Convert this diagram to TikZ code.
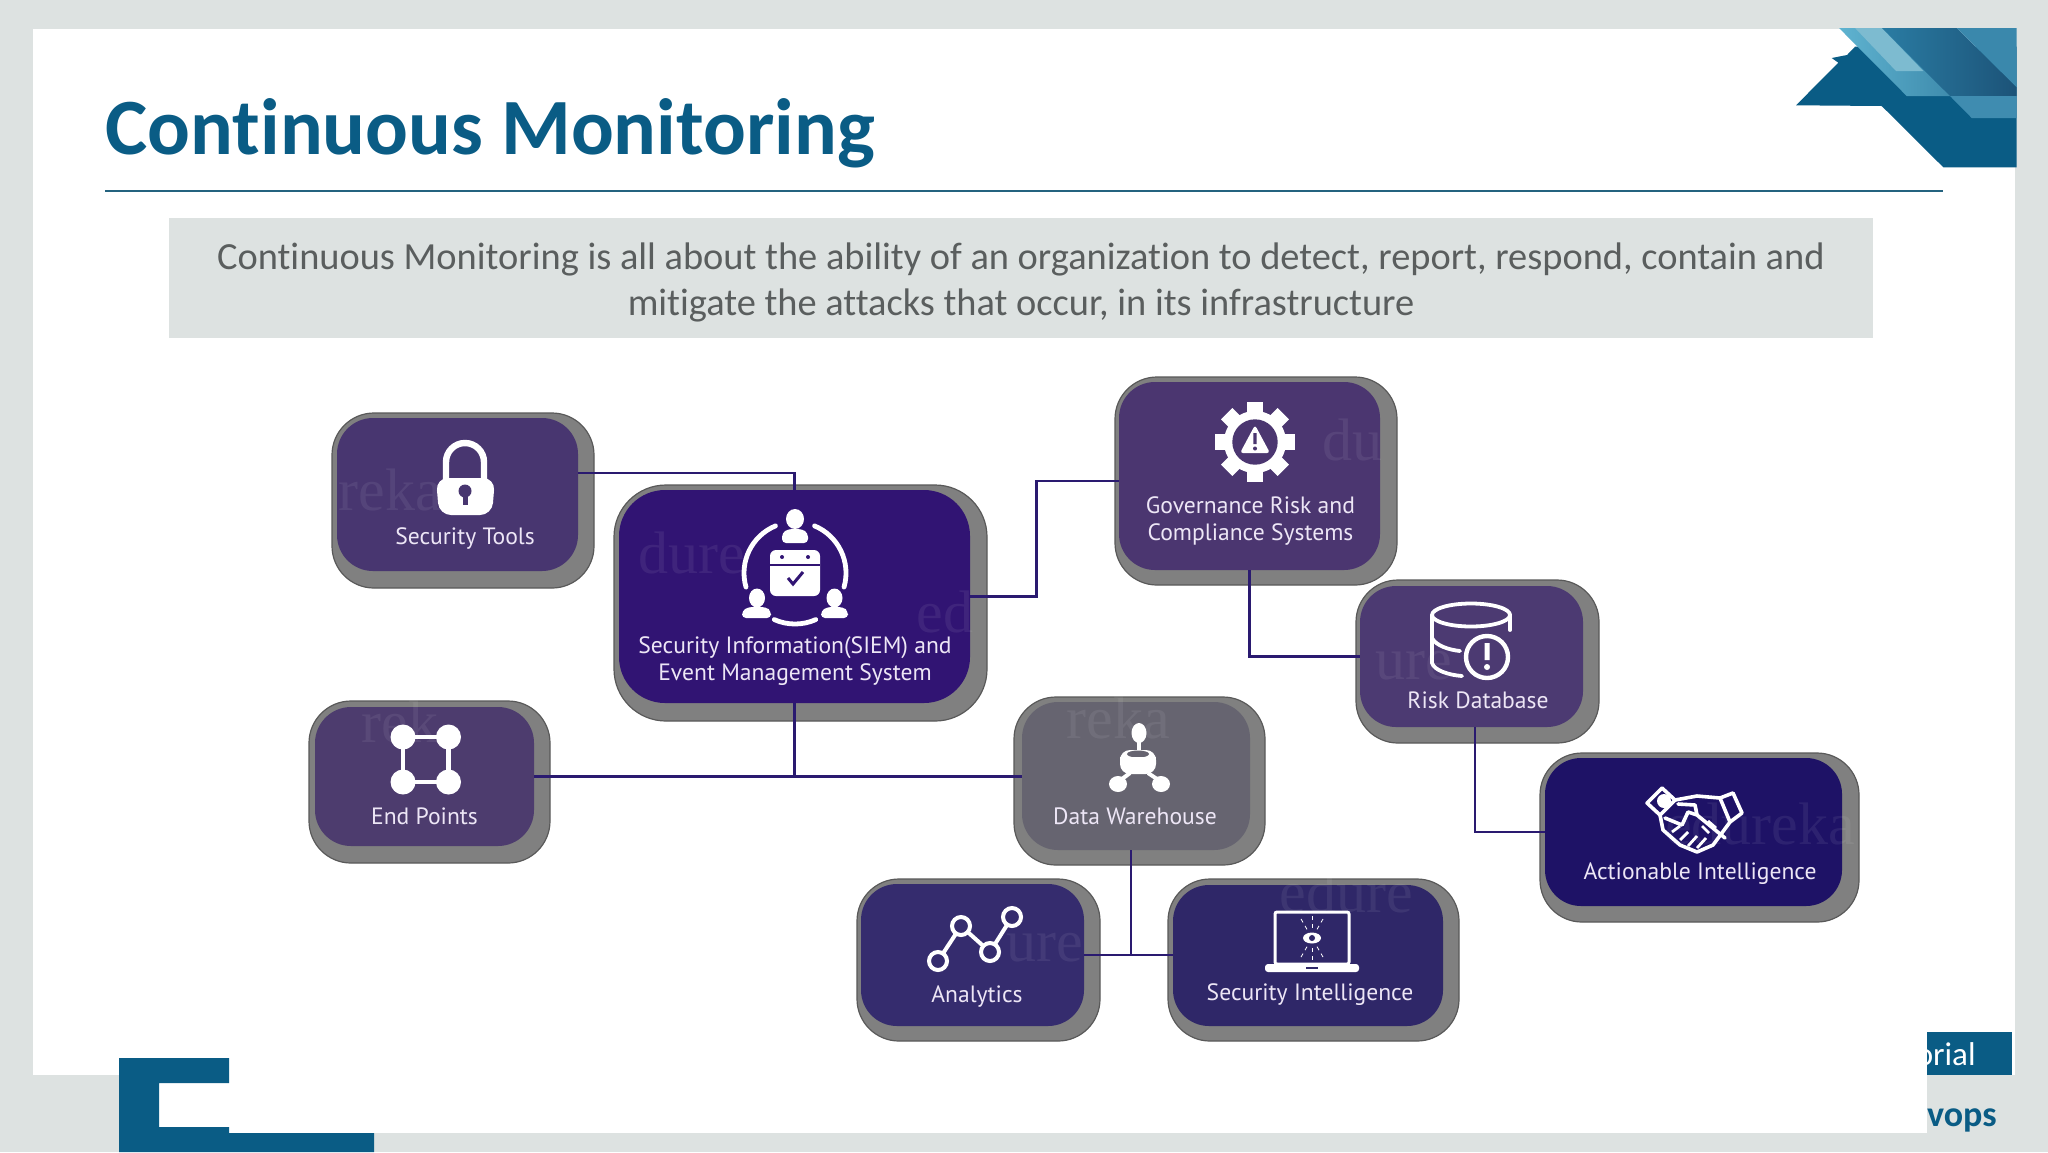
\documentclass[tikz,border=0pt]{standalone}
\usepackage{fontspec}
\setmainfont{Carlito}[RawFeature={-liga;-clig;-dlig}]
\newfontfamily\labelfont{PT Sans}
\newfontfamily\markfont{Liberation Serif}
\definecolor{pagebg}{HTML}{DDE2E1}
\definecolor{deckblue}{HTML}{0A5C85}
\definecolor{rulecol}{HTML}{24637F}
\definecolor{bodygray}{HTML}{5A5E5E}
\definecolor{linkcol}{HTML}{2A1A70}
\definecolor{shadowgray}{HTML}{808080}
\definecolor{labelcol}{HTML}{EDE6F6}
\definecolor{cST}{HTML}{483670}
\definecolor{cSIEM}{HTML}{311473}
\definecolor{cEP}{HTML}{4D3C6E}
\definecolor{cGOV}{HTML}{4B3670}
\definecolor{cRISK}{HTML}{4C3A72}
\definecolor{cDW}{HTML}{666470}
\definecolor{cACT}{HTML}{1E1266}
\definecolor{cSI}{HTML}{2F2768}
\definecolor{cAN}{HTML}{352C6E}
\definecolor{orA}{HTML}{5FB3D0}
\definecolor{orB}{HTML}{3A86A8}
\definecolor{orC}{HTML}{2A7CA3}
\definecolor{orD}{HTML}{1C5378}
\definecolor{orE}{HTML}{3A88AC}
\definecolor{orF}{HTML}{7DBBD0}
\definecolor{orG}{HTML}{3F8CB0}
\tikzset{
  outerbox/.style={draw=black!65,line width=0.6pt,fill=shadowgray,rounded corners=#1,inner sep=0pt},
  innerbox/.style={rounded corners=#1,inner sep=0pt},
  cardlabel/.style={text=labelcol,align=center,inner sep=0pt,font=\labelfont\fontsize{11.8}{13.4}\selectfont},
  linkline/.style={draw=linkcol,line width=1.1pt},
  iconfill/.style={fill=white,draw=none},
  iconline/.style={draw=white,line width=2pt,line cap=round,line join=round},
  ghostmark/.style={text=white,text opacity=0.07,inner sep=0pt,font=\markfont\fontsize{30}{30}\selectfont},
}
\newcommand{\cardrad}{18pt}
\newcommand{\cardradout}{21pt}
% name, x1,y1,x2,y2 (inner), x1,y1,x2,y2 (outer)
\newcommand{\cardbox}[9]{%
  \node[outerbox=\cardradout,minimum width={(#8-#6)*0.5pt},minimum height={(#9-#7)*0.5pt}] (#1o) at ({(#6+#8)/2},{(#7+#9)/2}) {};
  \node[innerbox=\cardrad,fill=c#1,minimum width={(#4-#2)*0.5pt},minimum height={(#5-#3)*0.5pt}] (#1) at ({(#2+#4)/2},{(#3+#5)/2}) {};
}
\begin{document}
\begin{tikzpicture}[x=0.5pt,y=-0.5pt]
\useasboundingbox (0,0) rectangle (2048,1152);
\fill[pagebg] (0,0) rectangle (2048,1152);
\fill[white] (33,29) rectangle (2015,1075);
\fill[white] (119,1075) rectangle (1927,1133);
% lower-left bracket
\fill[deckblue] (119,1058) -- (229,1058) -- (229,1083) -- (159,1083) -- (159,1127) -- (229,1127) -- (229,1133) -- (374,1133) -- (374,1152) -- (119,1152) -- cycle;
% footer
\fill[deckblue] (1927,1032) rectangle (2012,1075);
\begin{scope}
\clip (1927,1000) rectangle (2048,1152);
\node[anchor=base east,inner sep=0pt,text=white,font=\fontsize{16.5}{20}\selectfont] (foota) at (1976,1065) {orial};
\node[anchor=base east,inner sep=0pt,text=deckblue,font=\bfseries\fontsize{18}{20}\selectfont] (footb) at (1997,1126) {vops};
\end{scope}
% top-right ornament
\fill[deckblue] (1796,105.3) -- (1838.3,62.7) -- (1831.7,58) -- (1847,55) -- (1855,46.7) -- (2016.7,46.7) -- (2016.7,167.3) -- (1943.3,167.3) -- (1881.7,106) -- cycle;
\shade[left color=orA,right color=orB] (1839,28) -- (1882,28) -- (1966,96) -- (1906.7,96) -- cycle;
\shade[left color=orC,right color=orD] (1881.7,28) -- (1956.7,28) -- (2016.7,87.3) -- (2016.7,96) -- (1950,96) -- cycle;
\fill[orE] (1956.7,28) -- (2016.7,28) -- (2016.7,87.3) -- cycle;
\fill[orF] (1855,28) -- (1881.7,28) -- (1923.3,71) -- (1896,71) -- cycle;
\fill[orG] (1950,96) -- (2016.7,96) -- (2016.7,118) -- (1971.7,118) -- cycle;
% heading
\node[anchor=base west,inner sep=0pt,text=deckblue,font=\bfseries\fontsize{39.9}{46}\selectfont] (title) at (105,154) {Continuous Monitoring};
\coordinate (ruleL) at (105,191);
\coordinate (ruleR) at (1943,191);
\draw[rulecol,line width=1pt] (ruleL) -- (ruleR);
\fill[pagebg] (169,218) rectangle (1873,338);
\node[align=center,inner sep=0pt,text=bodygray,font=\fontsize{19.2}{23}\selectfont] (intro) at (1021,282) {Continuous Monitoring is all about the ability of an organization to detect, report, respond, contain and\\mitigate the attacks that occur, in its infrastructure};
% cards
\cardbox{ST}{337}{418}{578}{571}{332}{413}{594}{588}
\cardbox{EP}{315}{707}{534}{846}{309}{701}{550}{863}
\cardbox{GOV}{1119}{382}{1380}{570}{1115}{377}{1397}{585}
\cardbox{RISK}{1360}{586}{1583}{727}{1356}{580}{1599}{743}
\cardbox{DW}{1022}{702}{1250}{850}{1014}{697}{1265}{865}
\cardbox{ACT}{1545}{758}{1842}{906}{1540}{753}{1859}{922}
\cardbox{SI}{1173}{885}{1443}{1026}{1168}{879}{1459}{1041}
\cardbox{AN}{861}{884}{1084}{1026}{857}{879}{1100}{1041}
\renewcommand{\cardrad}{23pt}\renewcommand{\cardradout}{26pt}
\cardbox{SIEM}{619}{490}{970}{703}{614}{485}{987}{721}
% faint stamp fragments printed across the cards
\node[ghostmark] (g1) at (390,490) {reka};
\node[ghostmark] (g2) at (692,553) {dure};
\node[ghostmark] (g3) at (945,612) {ed};
\node[ghostmark] (g4) at (400,722) {rek};
\node[ghostmark] (g6) at (1352,440) {du};
\node[ghostmark] (g8) at (1414,666) {ure};
\node[ghostmark] (g9) at (1118,718) {reka};
\node[ghostmark] (g11) at (1045,948) {ure};
\node[ghostmark] (g12) at (1346,892) {edure};
\node[ghostmark] (g14) at (1760,824) {edureka};
% connectors
\draw[linkline] ([yshift=10.75pt]ST.east) -| (SIEM.north);
\draw[linkline] (SIEM.east) -- ++(66,0) |- ([yshift=-2.5pt]GOV.west);
\draw[linkline] (GOV.south) |- (RISK.west);
\draw[linkline] ([xshift=1.75pt]RISK.south) |- (ACT.west);
\draw[linkline] (SIEM.south) -- (SIEM.south |- EP.east);
\draw[linkline] (EP.east) -- (EP.east -| DW.west);
\draw[linkline] ([xshift=-2.5pt]DW.south) -- ([xshift=-2.5pt]DW.south |- AN.east);
\draw[linkline] (AN.east) -- (AN.east -| SI.west);
% labels
\node[cardlabel] (lST) at (465,539) {Security Tools};
\node[cardlabel] (lSIEM) at (795,661) {Security Information(SIEM) and\\Event Management System};
\node[cardlabel] (lEP) at (424.5,816) {End Points};
\node[cardlabel] (lGOV) at (1250.5,521) {Governance Risk and\\Compliance Systems};
\node[cardlabel] (lRISK) at (1478,700) {Risk Database};
\node[cardlabel] (lDW) at (1135,816) {Data Warehouse};
\node[cardlabel] (lACT) at (1700,874) {Actionable Intelligence};
\node[cardlabel] (lSI) at (1310,995) {Security Intelligence};
\node[cardlabel] (lAN) at (977,997) {Analytics};
% lock icon
\draw[white,line width=3.2pt] (446,485) -- (446,462) arc[start angle=180,end angle=360,radius=19] -- (484,485);
\fill[white,rounded corners=6pt] (436,478) -- (495,478) -- (492,515) -- (439,515) -- cycle;
\fill[cST] (465,491) circle (6.5);
\fill[cST] (462.5,491) rectangle (467.5,505);
% SIEM icon
\fill[white] (795,519) ellipse (9 and 10);
\fill[white,rounded corners=2pt] (782,543) -- (782,533) -- (788,529) -- (802,529) -- (808,533) -- (808,543) -- cycle;
\draw[iconline,line width=2.4pt] (795,573) ++(247.5:51) arc[start angle=247.5,end angle=164,radius=51];
\draw[iconline,line width=2.4pt] (795,573) ++(-67.5:51) arc[start angle=-67.5,end angle=16,radius=51];
\draw[iconline,line width=2.4pt] (795,573) ++(114:51) arc[start angle=114,end angle=66,radius=51];
\fill[white,rounded corners=3pt] (770,550) rectangle (820,596);
\fill[cSIEM] (770,563.5) rectangle (820,565.5);
\fill[cSIEM] (782,557) circle (2) (808,557) circle (2);
\draw[cSIEM,line width=1.5pt] (788,578) -- (793,584) -- (803,572);
\fill[white] (757,598) ellipse (8 and 9.5);
\fill[white,rounded corners=2pt] (742,618) -- (742,611) -- (748,607) -- (766,607) -- (771,611) -- (771,618) -- cycle;
\fill[white] (834.5,598) ellipse (8 and 9.5);
\fill[white,rounded corners=2pt] (821,618) -- (821,611) -- (827,607) -- (843,607) -- (848,611) -- (848,618) -- cycle;
% end points icon
\draw[iconline,line width=2.2pt] (403,737) rectangle (448.5,782);
\fill[white] (403,737) circle (12.5) (448.5,737) circle (12.5) (403,782) circle (12.5) (448.5,782) circle (12.5);
% governance icon
\foreach \a in {0,45,...,315}{\fill[white,rotate around={\a:(1255,442)}] (1247,402) rectangle (1263,420);}
\fill[white] (1255,442) circle (31);
\fill[cGOV] (1255,442) circle (22.7);
\fill[white,rounded corners=1.5pt] (1255,425) -- (1270,453) -- (1240,453) -- cycle;
\fill[cGOV] (1253.3,433) rectangle (1256.7,444) (1255,448.5) circle (2);
% risk database icon
\draw[iconline,line width=1.9pt] (1471,615) ellipse (39 and 11.5);
\draw[iconline,line width=1.9pt] (1432,615) -- (1432,663) .. controls (1434,670) and (1448,675) .. (1462,676);
\draw[iconline,line width=1.9pt] (1432,638) .. controls (1436,646) and (1450,650) .. (1460,651);
\draw[iconline,line width=1.9pt] (1510,615) -- (1510,630);
\draw[iconline,line width=2.2pt,fill=cRISK] (1487,657) circle (21);
\fill[white] (1484.5,643) rectangle (1489.5,660) (1487,667) circle (3);
% data warehouse icon
\fill[white] (1139,733) ellipse (7.5 and 10);
\fill[white] (1137,742) rectangle (1141,750);
\fill[white,rounded corners=5pt] (1120,750) rectangle (1156,774);
\fill[cDW] (1138,754) ellipse (11 and 3.5);
\draw[white,line width=1.5pt] (1120,758) -- (1156,758);
\fill[white] (1118,784) ellipse (9 and 8) (1161,784) ellipse (9 and 8);
\draw[white,line width=2pt] (1122,779) -- (1130,773) (1157,779) -- (1148,773);
% analytics icon
\draw[iconline,line width=2pt] (938,961) -- (961,926) -- (990,952) -- (1012,917);
\foreach \p in {(938,961),(961,926),(990,952),(1012,917)}{\filldraw[cAN,draw=white,line width=2pt] \p circle (9);}
% laptop icon
\draw[white,line width=1.5pt,fill=cSI,rounded corners=1pt] (1275,912) rectangle (1349,964);
\fill[white,rounded corners=1.5pt] (1265,964) rectangle (1359,972);
\fill[cSI] (1306,966.5) rectangle (1318,969);
\fill[white] (1312,938) ellipse (9 and 5.5);
\fill[cSI] (1312,938) circle (3);
\foreach \a in {-60,-90,-120,60,90,120}{\draw[white,line width=0.4pt,dash pattern=on 2pt off 2pt] (1312,938) ++(\a:10) -- ++(\a:12);}
% handshake icon
\draw[iconline,line width=1.8pt] (1647,803) -- (1662,788) -- (1675,800) -- (1660,815) -- cycle;
\draw[iconline,line width=1.8pt] (1720,798) -- (1733,793) -- (1742,813) -- (1730,822) -- cycle;
\draw[iconline,line width=1.8pt] (1675,800) -- (1697,796) -- (1720,798) (1730,822) -- (1713,845) -- (1697,852) -- (1680,845) -- (1663,830) -- (1660,815);
\draw[iconline,line width=1.8pt] (1665,818) -- (1682,825) -- (1688,812) -- (1697,815) -- (1725,838);
\draw[iconline,line width=1.8pt] (1697,815) -- (1695,805) -- (1678,804);
\fill[white] (1664,801) circle (7);
\foreach \xa/\ya/\xb/\yb in {1672/832/1680/826,1680/840/1688/832,1688/846/1697/836,1697/848/1706/838,1702/826/1709/833,1708/821/1716/828}{\draw[white,line width=1.4pt] (\xa,\ya) -- (\xb,\yb);}
\end{tikzpicture}
\end{document}
